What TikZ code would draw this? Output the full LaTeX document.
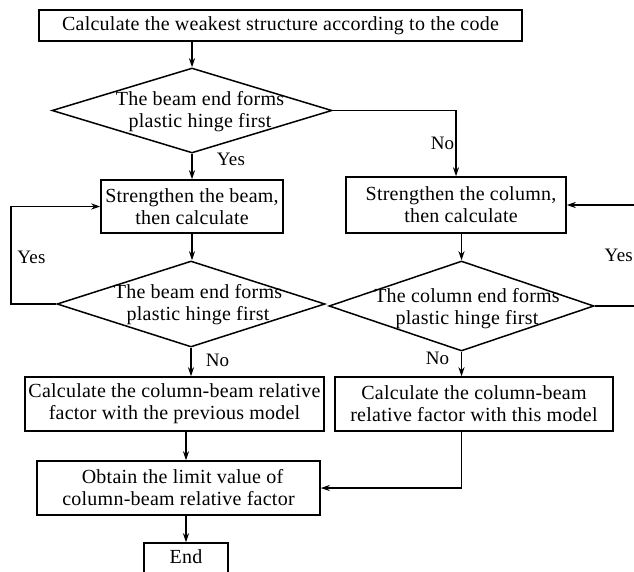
\documentclass[tikz,border=0pt]{standalone}
\usepackage{fontspec}
\setmainfont{Liberation Serif}[LetterSpace=1.2]
\usetikzlibrary{shapes.geometric,arrows.meta}
\begin{document}
\begin{tikzpicture}[x=1pt,y=-1pt,
  every node/.style={font=\fontsize{20pt}{22pt}\selectfont},
  box/.style={draw,line width=1.5pt,rectangle,inner sep=0pt,align=center},
  dia/.style={draw,line width=1.5pt,diamond,inner sep=0pt},
  txt/.style={inner sep=0pt,align=center},
  lab/.style={inner sep=0pt,font=\fontsize{19pt}{21pt}\selectfont},
  conn/.style={line width=1.5pt,-{Stealth[length=9pt,width=6pt]}},
  line/.style={line width=1.5pt}]
\path[use as bounding box,clip] (0,0) rectangle (634,571);
% boxes
\node[box,minimum width=483pt,minimum height=31pt] (top) at (280.5,25.5) {Calculate the weakest structure according to the code};
\node[box,minimum width=182pt,minimum height=53pt] (beam) at (192,206.5) {Strengthen the beam,\\then calculate};
\node[box,minimum width=220pt,minimum height=56pt] (col) at (456,205) {\hspace*{10pt}Strengthen the column,\\\hspace*{10pt}then calculate};
\node[box,minimum width=299pt,minimum height=54pt] (lb) at (174.5,404) {Calculate the column-beam relative\\factor with the previous model};
\node[box,minimum width=278pt,minimum height=54pt] (rb) at (474,404) {Calculate the column-beam\\relative factor with this model};
\node[box,minimum width=283pt,minimum height=54pt] (ob) at (178.5,488) {\hspace*{8pt}Obtain the limit value of\\column-beam relative factor};
\node[box,minimum width=84pt,minimum height=56pt] (end) at (186,571) {};
\node[txt] (endt) at (186,557) {End};
% diamonds
\node[dia,minimum width=280pt,minimum height=85pt] (d1) at (192,110.5) {};
\node[dia,minimum width=268pt,minimum height=86pt] (d2) at (191,304) {};
\node[dia,minimum width=265pt,minimum height=90pt] (d3) at (461.5,306) {};
\node[txt] (d1t) at (200,112) {The beam end forms\\plastic hinge first};
\node[txt] (d2t) at (198,305) {The beam end forms\\plastic hinge first};
\node[txt] (d3t) at (467,309) {The column end forms\\plastic hinge first};
% labels
\node[lab] (y1) at (231,159) {Yes};
\node[lab] (n1) at (442.5,143) {No};
\node[lab] (y2) at (31.5,257) {Yes};
\node[lab] (n2) at (217.5,360) {No};
\node[lab] (n3) at (437.5,358) {No};
\node[lab,anchor=east] (y3) at (633,255) {Yes};
% helper coordinates
\coordinate (lx) at (11,0);
\coordinate (rx) at (660,0);
% connectors
\draw[conn] (d1.north |- top.south) -- (d1.north);
\draw[conn] (d1.south) -- (d1.south |- beam.north);
\draw[conn] (d1.east) -| (col.north);
\draw[conn] (beam.south) -- (beam.south |- d2.north);
\draw[conn] (d3.north |- col.south) -- (d3.north);
\draw[conn] (d2.west) -- (lx |- d2.west) |- (beam.west);
\draw[conn] (d3.east) -- (rx |- d3.east) |- (col.east);
\draw[conn] (d2.south) -- (d2.south |- lb.north);
\draw[conn] (d3.south) -- (d3.south |- rb.north);
\draw[conn] (end.north |- lb.south) -- (end.north |- ob.north);
\draw[conn] (d3.south |- rb.south) |- (ob.east);
\draw[conn] (end.north |- ob.south) -- (end.north);
\end{tikzpicture}
\end{document}
